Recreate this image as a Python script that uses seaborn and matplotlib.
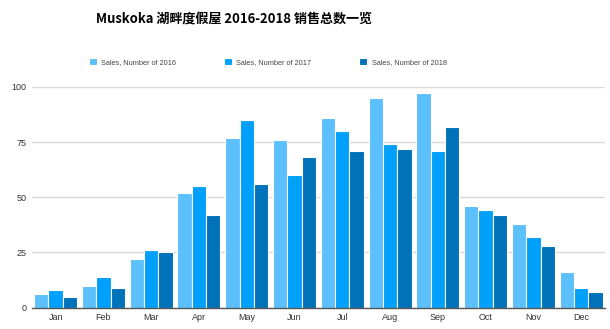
import matplotlib
matplotlib.use("Agg")
import matplotlib.pyplot as plt
import seaborn as sns
import pandas as pd

months = ["Jan", "Feb", "Mar", "Apr", "May", "Jun",
          "Jul", "Aug", "Sep", "Oct", "Nov", "Dec"]
sales_2016 = [6, 10, 22, 52, 77, 76, 86, 95, 97, 46, 38, 16]
sales_2017 = [8, 14, 26, 55, 85, 60, 80, 74, 71, 44, 32, 9]
sales_2018 = [5, 9, 25, 42, 56, 68, 71, 72, 82, 42, 28, 7]
series_names = ["Sales, Number of 2016", "Sales, Number of 2017", "Sales, Number of 2018"]
y_ticks = [0, 25, 50, 75, 100]

df = pd.DataFrame({"month": months * 3,
                   "sales": sales_2016 + sales_2017 + sales_2018,
                   "series": [n for n in series_names for _ in months]})

sns.set_theme(style="white")
plt.rcParams["font.family"] = ["Liberation Sans", "DejaVu Sans"]

palette = ["#5bc0fb", "#00a0fb", "#0072b9"]

fig = plt.figure(figsize=(6.1, 3.29), dpi=100)
ax = fig.add_axes([0.052, 0.065, 0.940, 0.671])

sns.barplot(data=df, x="month", y="sales", hue="series", palette=palette,
            saturation=1, width=0.9, edgecolor="white", linewidth=0.8,
            ax=ax, legend=True)

ax.set_ylim(0, 100)
ax.set_xlim(-0.5, 11.5)
ax.set_yticks(y_ticks)
ax.set_yticklabels([str(t) for t in y_ticks])
ax.yaxis.grid(True, color="#d9d9d9", linewidth=1)
ax.set_axisbelow(True)
ax.set_xlabel("")
ax.set_ylabel("")
for side in ["left", "right", "top"]:
    ax.spines[side].set_visible(False)
ax.spines["bottom"].set_color("#555555")
ax.spines["bottom"].set_linewidth(1)
ax.tick_params(axis="both", length=0, labelsize=6.5, colors="#333333", pad=4)

leg = ax.legend(loc="lower left", bbox_to_anchor=(0.094, 1.08), ncol=3,
                frameon=False, fontsize=5.3, handlelength=1.1, handleheight=1.1,
                columnspacing=6.5, handletextpad=0.6, borderaxespad=0)
for t in leg.get_texts():
    t.set_color("#444444")

fig.text(0.384, 0.945, "Muskoka 湖畔度假屋 2016-2018 销售总数一览", ha="center", va="center",
         fontsize=9.4, fontweight="bold", color="black",
         family=["Noto Sans CJK SC", "DejaVu Sans"])

fig.savefig("out.png", dpi=100)
